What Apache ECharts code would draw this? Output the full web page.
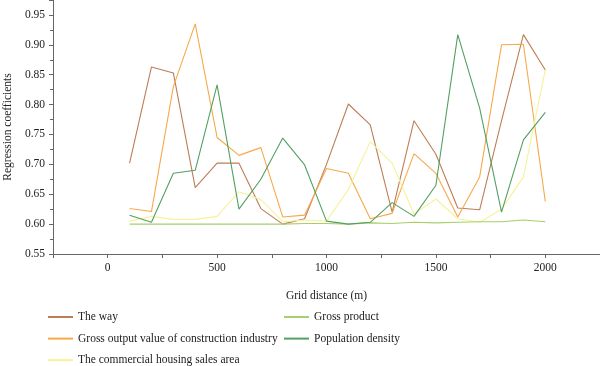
<!DOCTYPE html>
<html>
<head>
<meta charset="utf-8">
<script src="https://cdn.jsdelivr.net/npm/echarts@6/dist/echarts.min.js"></script>
<style>html,body{margin:0;padding:0;background:#fff}#c{width:600px;height:366px}</style>
</head>
<body>
<div id="c"></div>
<script>
var distances = [100,200,300,400,500,600,700,800,900,1000,1100,1200,1300,1400,1500,1600,1700,1800,1900,2000];
var theWay = [0.702,0.863,0.853,0.661,0.702,0.702,0.626,0.600,0.609,0.700,0.801,0.766,0.620,0.773,0.717,0.627,0.624,0.773,0.917,0.858];
var grossOutput = [0.626,0.621,0.830,0.935,0.745,0.715,0.728,0.612,0.615,0.693,0.685,0.609,0.618,0.718,0.685,0.612,0.679,0.900,0.901,0.638];
var housingArea = [0.605,0.613,0.608,0.608,0.613,0.654,0.641,0.604,0.607,0.605,0.658,0.738,0.702,0.617,0.642,0.609,0.603,0.625,0.679,0.858];
var grossProduct = [0.600,0.600,0.600,0.600,0.600,0.600,0.600,0.600,0.601,0.601,0.600,0.602,0.601,0.603,0.602,0.603,0.604,0.604,0.607,0.604];
var popDensity = [0.615,0.603,0.685,0.690,0.833,0.625,0.675,0.744,0.699,0.605,0.600,0.603,0.636,0.613,0.665,0.917,0.794,0.620,0.741,0.787];
var seriesNames = ['The way','Gross output value of construction industry','The commercial housing sales area','Gross product','Population density'];
var seriesData = [theWay, grossOutput, housingArea, grossProduct, popDensity];
var colors = ['#bd7d55','#f7a94a','#f6f29a','#a8cf6a','#52a062'];

var font = 'Liberation Serif';
function pairs(arr){ return arr.map(function(v,i){ return [distances[i], v]; }); }

var legendCommon = {
  orient: 'vertical', top: 311, height: 100, padding: 0,
  itemWidth: 25, itemHeight: 10, itemGap: 9.6,
  itemStyle: { opacity: 0 },
  textStyle: { fontFamily: font, fontSize: 11.5, color: '#222' }
};

var chart = echarts.init(document.getElementById('c'));
chart.setOption({
  animation: false,
  textStyle: { fontFamily: font },
  grid: { left: 53, right: 0, top: 0, bottom: 112, containLabel: false, outerBoundsMode: 'none' },
  xAxis: {
    type: 'value', min: -250, max: 2250, interval: 250,
    name: 'Grid distance (m)', nameLocation: 'middle', nameGap: 36,
    nameTextStyle: { fontFamily: font, fontSize: 11.5, color: '#222' },
    axisLine: { onZero: false, lineStyle: { color: '#666' } },
    axisTick: { length: 4, lineStyle: { color: '#666' } },
    axisLabel: { fontFamily: font, fontSize: 11.5, color: '#222', margin: 8,
      formatter: function(v){ return (v % 500 === 0) ? String(v) : ''; } },
    splitLine: { show: false }
  },
  yAxis: {
    type: 'value', min: 0.55, max: 0.975, interval: 0.05,
    name: 'Regression coefficients', nameLocation: 'middle', nameGap: 37,
    nameTextStyle: { fontFamily: font, fontSize: 11.5, color: '#222' },
    axisLine: { show: true, onZero: false, lineStyle: { color: '#666' } },
    axisTick: { show: true, length: 4, lineStyle: { color: '#666' } },
    minorTick: { show: true, splitNumber: 2, length: 3, lineStyle: { color: '#666' } },
    axisLabel: { fontFamily: font, fontSize: 11.5, color: '#222', margin: 8, showMaxLabel: false,
      formatter: function(v){ return v.toFixed(2); } },
    splitLine: { show: false }
  },
  legend: [
    Object.assign({ id: 'legA', data: seriesNames.slice(0,3), left: 47 }, legendCommon),
    Object.assign({ id: 'legB', data: seriesNames.slice(3), left: 283 }, legendCommon)
  ],
  series: seriesNames.map(function(n,i){
    return { name: n, type: 'line', data: pairs(seriesData[i]), symbol: 'none',
      color: colors[i], lineStyle: { width: 1.1, color: colors[i] } };
  })
});
</script>
</body>
</html>
